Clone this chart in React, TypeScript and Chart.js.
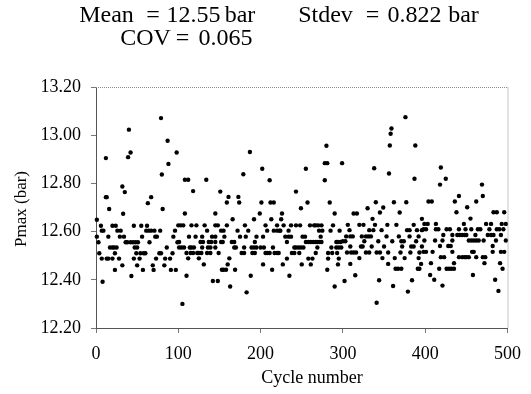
import React, { useEffect, useRef } from "react";
import { Chart, registerables } from "chart.js";

Chart.register(...registerables);

// Title words with their centre x (px)
const TITLE_LINE1: [string, number][] = [
  ["Mean", 106.5],
  ["=", 153],
  ["12.55", 193.5],
  ["bar", 240],
  ["Stdev", 325.5],
  ["=", 372.5],
  ["0.822", 414.5],
  ["bar", 463.5],
];
const TITLE_LINE2: [string, number][] = [
  ["COV", 145.5],
  ["=", 182.5],
  ["0.065", 225.5],
];
const X_TITLE = "Cycle number";
const Y_TITLE = "Pmax (bar)";

const xTickValues = [0, 100, 200, 300, 400, 500];
const yTickValues = [12.2, 12.4, 12.6, 12.8, 13.0, 13.2];

// Pmax readings grouped by level: [pmax (bar), cycle numbers at that level]
const cycles0to100: [number, number[]][] = [
  [13.071, [79]],
  [13.023, [40]],
  [12.977, [87]],
  [12.928, [42, 98]],
  [12.909, [39]],
  [12.905, [12]],
  [12.881, [88]],
  [12.837, [80]],
  [12.787, [32]],
  [12.764, [35]],
  [12.743, [12, 13, 67]],
  [12.718, [63]],
  [12.694, [16, 81]],
  [12.674, [33]],
  [12.649, [1]],
  [12.624, [6, 20, 24, 46, 55, 62]],
  [12.604, [7, 9, 26, 30, 61, 64, 67, 71, 78, 96]],
  [12.579, [1, 15, 29, 34, 56, 72, 74, 94]],
  [12.556, [3, 36, 38, 42, 45, 48, 51, 65, 99]],
  [12.534, [17, 20, 22, 25, 47, 50, 86]],
  [12.51, [4, 23, 49, 54, 58, 60, 77, 79, 93]],
  [12.488, [7, 13, 15, 20, 28, 46, 53, 73, 84, 90]],
  [12.46, [32, 50, 69, 83]],
  [12.441, [23, 57, 70, 91, 97]],
  [12.416, [43]],
  [12.392, [8]],
];

const cycles100to200: [number, number[]][] = [
  [12.93, [187]],
  [12.838, [179]],
  [12.815, [108, 112, 134]],
  [12.768, [118]],
  [12.766, [151]],
  [12.744, [161, 173]],
  [12.721, [159, 174]],
  [12.675, [108, 145, 199]],
  [12.651, [166, 192]],
  [12.626, [100, 103, 106, 116, 122, 132, 145, 148, 159, 181]],
  [12.604, [135, 152, 155, 172, 185]],
  [12.579, [113, 121, 129, 141, 145, 156, 175, 182, 195]],
  [12.557, [101, 127, 130, 137, 140, 145, 152, 154, 165, 168, 193]],
  [12.534, [101, 104, 107, 114, 116, 119, 129, 136, 139, 145, 168, 170, 180, 189, 192, 195]],
  [12.511, [110, 115, 118, 123, 125, 128, 135, 139, 149, 177, 180, 190, 193]],
  [12.489, [112, 125, 162]],
  [12.464, [131, 160]],
  [12.442, [153, 155, 158, 169]],
  [12.417, [110, 188]],
  [12.395, [142, 148]],
  [12.372, [163]],
  [12.348, [183]],
  [12.3, [105]],
];

const cycles200to300: [number, number[]][] = [
  [12.956, [280]],
  [12.884, [278, 281, 299]],
  [12.861, [202, 255]],
  [12.813, [211, 278]],
  [12.766, [243]],
  [12.721, [201, 212, 216, 257, 284]],
  [12.697, [249]],
  [12.675, [226, 290]],
  [12.651, [213, 225]],
  [12.626, [206, 220, 228, 237, 243, 248, 260, 265, 267, 270, 274, 288]],
  [12.604, [208, 216, 220, 223, 224, 234, 271, 275, 285, 296]],
  [12.579, [203, 230, 234, 237, 251, 254, 273]],
  [12.557, [232, 255, 258, 261, 264, 267, 269, 272, 274, 292, 294, 297]],
  [12.534, [200, 204, 215, 241, 243, 246, 249, 252, 269, 286, 292, 295, 298]],
  [12.511, [206, 208, 211, 217, 220, 222, 238, 241, 247, 267, 282, 287, 293]],
  [12.488, [232, 258, 263, 282, 295]],
  [12.464, [203, 227, 250, 261, 294]],
  [12.442, [214, 281]],
  [12.417, [235]],
  [12.372, [290]],
];

const cycles300to400: [number, number[]][] = [
  [13.075, [376]],
  [13.028, [359]],
  [13.006, [358]],
  [12.957, [357, 388]],
  [12.863, [338]],
  [12.841, [356]],
  [12.819, [387]],
  [12.722, [340, 362, 377]],
  [12.7, [349]],
  [12.697, [330]],
  [12.679, [345, 369]],
  [12.675, [313, 317]],
  [12.653, [336, 396]],
  [12.628, [306, 320, 325, 339, 354, 365, 386]],
  [12.606, [308, 332, 337, 347, 378, 381, 390, 396]],
  [12.58, [304, 309, 312, 323, 328, 331, 334, 353, 368, 381, 392]],
  [12.56, [300, 303, 326, 343, 360, 371, 374, 389]],
  [12.538, [309, 322, 324, 335, 350, 372, 383, 386, 396]],
  [12.513, [305, 310, 313, 316, 328, 332, 341, 345, 355, 370, 382, 393]],
  [12.49, [320, 348, 363, 375, 392]],
  [12.466, [309, 355, 395]],
  [12.446, [364, 367, 371, 391, 393]],
  [12.419, [315]],
  [12.398, [344, 384]],
  [12.395, [302]],
  [12.374, [361]],
  [12.351, [379]],
  [12.305, [341]],
];

const cycles400to500: [number, number[]][] = [
  [12.866, [419]],
  [12.819, [425]],
  [12.795, [418, 469]],
  [12.748, [441, 470]],
  [12.725, [404, 408, 436, 462]],
  [12.701, [451]],
  [12.68, [438, 483, 487, 496]],
  [12.654, [455]],
  [12.632, [399, 403, 413, 447, 474, 480, 493, 498]],
  [12.61, [398, 401, 413, 416, 426, 430, 441, 449, 456, 464, 467, 478, 487, 490, 495]],
  [12.586, [422, 433, 439, 442, 445, 448, 450, 461, 476, 480, 483, 492]],
  [12.563, [399, 412, 421, 433, 453, 456, 459, 462, 465, 471, 486, 498]],
  [12.54, [418, 428, 431, 482]],
  [12.516, [398, 401, 409, 433, 457, 459, 482, 492, 496]],
  [12.494, [419, 423, 441, 445, 448, 450, 453, 462, 470, 473]],
  [12.469, [407, 435, 472, 491]],
  [12.446, [417, 426, 429, 432, 435, 494]],
  [12.42, [406, 458]],
  [12.4, [411, 485]],
  [12.376, [421]],
  [12.354, [489]],
];

const SERIF = "'Liberation Serif', 'Times New Roman', serif";

function toPoints(groups: [number, number[]][]) {
  const out: { x: number; y: number }[] = [];
  for (const [value, cycles] of groups) {
    for (const c of cycles) out.push({ x: c, y: value });
  }
  return out;
}

const textPlugin = {
  id: "textOverlay",
  afterDraw(chart: any) {
    const { ctx, chartArea } = chart;
    ctx.save();
    // dotted top / right frame
    ctx.strokeStyle = "#8a8a8a";
    ctx.lineWidth = 1;
    ctx.setLineDash([1, 1]);
    ctx.beginPath();
    ctx.moveTo(chartArea.left, chartArea.top + 0.5);
    ctx.lineTo(chartArea.right + 0.5, chartArea.top + 0.5);
    ctx.lineTo(chartArea.right + 0.5, chartArea.bottom);
    ctx.stroke();
    ctx.setLineDash([]);

    ctx.fillStyle = "#000";
    ctx.textBaseline = "alphabetic";
    ctx.textAlign = "center";
    ctx.font = `24px ${SERIF}`;
    for (const [w, x] of TITLE_LINE1) ctx.fillText(w, x, 22);
    for (const [w, x] of TITLE_LINE2) ctx.fillText(w, x, 45);

    ctx.font = `18px ${SERIF}`;
    ctx.textAlign = "center";
    ctx.fillText(X_TITLE, 312, 383);

    ctx.translate(26, 209);
    ctx.rotate(-Math.PI / 2);
    ctx.font = `17px ${SERIF}`;
    ctx.textAlign = "center";
    ctx.fillText(Y_TITLE, 0, 0);
    ctx.restore();
  },
};

export default function App() {
  const canvasRef = useRef<HTMLCanvasElement | null>(null);

  useEffect(() => {
    if (!canvasRef.current) return;
    const points = [
      ...toPoints(cycles0to100),
      ...toPoints(cycles100to200),
      ...toPoints(cycles200to300),
      ...toPoints(cycles300to400),
      ...toPoints(cycles400to500),
    ];
    const tickFont = { family: SERIF, size: 18 };
    const chart = new Chart(canvasRef.current, {
      type: "scatter",
      data: {
        datasets: [
          {
            data: points,
            backgroundColor: "#000",
            borderColor: "#000",
            borderWidth: 0,
            pointRadius: 2.2,
            pointStyle: "circle",
            clip: false,
          } as any,
        ],
      },
      options: {
        animation: false,
        responsive: false,
        devicePixelRatio: 1,
        layout: { padding: { top: 87, right: 20, left: 0, bottom: 0 } },
        plugins: {
          legend: { display: false },
          tooltip: { enabled: false },
          title: { display: false },
        },
        scales: {
          x: {
            type: "linear",
            min: 0,
            max: 500,
            afterBuildTicks: (scale: any) => {
              scale.ticks = xTickValues.map((v) => ({ value: v }));
            },
            ticks: {
              font: tickFont,
              color: "#000",
              padding: 10,
              maxRotation: 0,
              callback: (v: any) => String(v),
            },
            grid: { drawOnChartArea: false, drawTicks: true, tickLength: 5, color: "#777" },
            border: { display: true, color: "#555", width: 1 },
            afterFit: (scale: any) => {
              scale.height = 66;
            },
          },
          y: {
            type: "linear",
            min: 12.2,
            max: 13.2,
            afterBuildTicks: (scale: any) => {
              scale.ticks = yTickValues.map((v) => ({ value: v }));
            },
            ticks: {
              font: tickFont,
              color: "#000",
              padding: 10,
              callback: (v: any) => Number(v).toFixed(2),
            },
            grid: { drawOnChartArea: false, drawTicks: true, tickLength: 5, color: "#777" },
            border: { display: true, color: "#555", width: 1 },
            afterFit: (scale: any) => {
              scale.width = 96;
            },
          },
        },
      } as any,
      plugins: [textPlugin],
    });
    return () => chart.destroy();
  }, []);

  return (
    <div style={{ position: "fixed", left: 0, top: 0, width: 531, height: 394, background: "#fff" }}>
      <canvas ref={canvasRef} width={531} height={394} style={{ display: "block", width: 531, height: 394 }} />
    </div>
  );
}
